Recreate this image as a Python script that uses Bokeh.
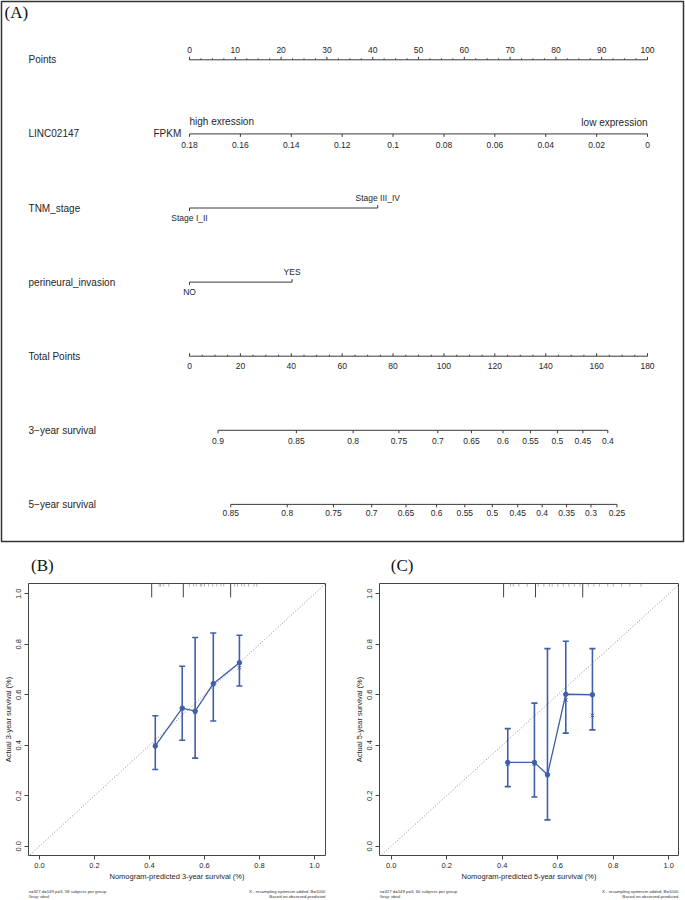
import numpy as np
from bokeh.plotting import figure
from bokeh.models import Range1d, ColumnDataSource, FixedTicker, NumeralTickFormatter
from bokeh.layouts import column, row
from bokeh.core.properties import value
from bokeh.embed import file_html
from bokeh.resources import INLINE

# ---------------- Panel A : nomogram data ----------------
row_labels = ["Points", "LINC02147", "TNM_stage", "perineural_invasion",
              "Total Points", "3\u2212year survival", "5\u2212year survival"]
points_ticks = [0, 10, 20, 30, 40, 50, 60, 70, 80, 90, 100]
linc_ticks = [0.18, 0.16, 0.14, 0.12, 0.10, 0.08, 0.06, 0.04, 0.02, 0.0]
linc_tick_labels = ["0.18", "0.16", "0.14", "0.12", "0.1", "0.08", "0.06", "0.04", "0.02", "0"]
linc_at_0_points = 0.18
linc_at_100_points = 0.0
tnm_levels = ["Stage I_II", "Stage III_IV"]
tnm_points = [0.0, 41.1]
pni_levels = ["NO", "YES"]
pni_points = [0.0, 22.4]
total_ticks = [0, 20, 40, 60, 80, 100, 120, 140, 160, 180]
total_points_max = 180
surv3_labels = ["0.9", "0.85", "0.8", "0.75", "0.7", "0.65", "0.6", "0.55", "0.5", "0.45", "0.4"]
surv3_total = [11.2, 42.0, 64.3, 82.3, 97.6, 110.8, 123.2, 134.0, 144.6, 154.6, 164.4]
surv5_labels = ["0.85", "0.8", "0.75", "0.7", "0.65", "0.6", "0.55", "0.5", "0.45", "0.4",
                "0.35", "0.3", "0.25"]
surv5_total = [16.2, 38.4, 56.6, 71.6, 85.1, 97.1, 108.2, 119.0, 129.0, 138.6, 148.2, 157.8, 168.0]

# ---------------- Panels B, C : calibration data ----------------
cal3_pred = [0.421, 0.519, 0.566, 0.632, 0.727]
cal3_obs = [0.397, 0.547, 0.535, 0.644, 0.727]
cal3_lo = [0.304, 0.420, 0.349, 0.496, 0.635]
cal3_hi = [0.517, 0.713, 0.827, 0.845, 0.836]
cal3_corrected = [0.400, 0.545, 0.530, 0.640, 0.707]
cal3_cuts = [0.408, 0.523, 0.695]
cal3_rug = [0.435, 0.44, 0.45, 0.47, 0.545, 0.56, 0.57, 0.585, 0.59, 0.60, 0.615,
            0.63, 0.645, 0.66, 0.67, 0.71, 0.72, 0.735, 0.745, 0.76, 0.78, 0.79]

cal5_pred = [0.420, 0.516, 0.563, 0.629, 0.725]
cal5_obs = [0.332, 0.332, 0.283, 0.602, 0.600]
cal5_lo = [0.236, 0.195, 0.104, 0.448, 0.461]
cal5_hi = [0.466, 0.567, 0.783, 0.812, 0.783]
cal5_corrected = [0.325, 0.325, 0.280, 0.580, 0.518]
cal5_cuts = [0.405, 0.520, 0.690]
cal5_rug = [0.43, 0.44, 0.46, 0.49, 0.53, 0.55, 0.57, 0.58, 0.60, 0.62, 0.64, 0.66,
            0.68, 0.71, 0.73, 0.75, 0.78, 0.80, 0.83, 0.86, 0.90]

SANS = value("Liberation Sans")
SERIF = value("Liberation Serif")
TXT = "#262626"
AXC = "#3a3a3a"
BLUE = "#3f5fa8"

# ================= Panel A =================
pa = figure(width=685, height=543, x_range=Range1d(-41.05, 107.86), y_range=Range1d(6.501, -0.787),
            output_backend="svg", toolbar_location=None, x_axis_location=None, y_axis_location=None,
            min_border_left=1, min_border_right=2, min_border_top=1, min_border_bottom=2)
pa.xgrid.visible = False
pa.ygrid.visible = False
pa.outline_line_color = "#333333"
pa.outline_line_width = 1.5
pa.background_fill_color = "white"

MAJ = 0.04
MIN = 0.02


def pts_from_total(t):
    return np.asarray(t, dtype=float) * 100.0 / total_points_max


def pts_from_linc(v):
    return (linc_at_0_points - np.asarray(v, dtype=float)) / (linc_at_0_points - linc_at_100_points) * 100.0


seg_x0, seg_x1, seg_y0, seg_y1 = [], [], [], []


def add_seg(x0, y0, x1, y1):
    seg_x0.append(float(x0)); seg_y0.append(float(y0))
    seg_x1.append(float(x1)); seg_y1.append(float(y1))


def add_axis(r, xs, direction, length):
    xs = list(xs)
    add_seg(min(xs), r, max(xs), r)
    for x in xs:
        add_seg(x, r, x, r + direction * length)


# Points (ticks up)
add_axis(0, points_ticks, -1, MAJ)
for m in np.arange(0, 100.01, 2.5):
    if m % 10 != 0:
        add_seg(m, 0, m, -MIN)
# LINC02147 (ticks down)
add_axis(1, pts_from_linc(linc_ticks), 1, MAJ)
# TNM stage
tx = list(tnm_points)
add_seg(min(tx), 2, max(tx), 2)
add_seg(tx[0], 2, tx[0], 2 + MAJ)
add_seg(tx[1], 2, tx[1], 2 - MAJ)
# perineural invasion
px = list(pni_points)
add_seg(min(px), 3, max(px), 3)
add_seg(px[0], 3, px[0], 3 + MAJ)
add_seg(px[1], 3, px[1], 3 - MAJ)
# Total points (ticks up)
add_axis(4, pts_from_total(total_ticks), -1, MAJ)
for m in np.arange(0, total_points_max + 0.01, 5):
    if m % 20 != 0:
        mm = float(pts_from_total(m))
        add_seg(mm, 4, mm, 4 - MIN)
# survival axes (ticks down)
add_axis(5, pts_from_total(surv3_total), 1, MAJ)
add_axis(6, pts_from_total(surv5_total), 1, MAJ)

pa.segment(x0=seg_x0, y0=seg_y0, x1=seg_x1, y1=seg_y1, line_color=AXC, line_width=1)

pa.text(x=[-35.15] * len(row_labels), y=list(range(len(row_labels))), text=row_labels,
        text_font=SANS, text_font_size="10px", text_color=TXT,
        text_align="left", text_baseline="middle")
pa.text(x=[-1.8], y=[1], text=["FPKM"], text_font=SANS, text_font_size="10px",
        text_color=TXT, text_align="right", text_baseline="middle")
pa.text(x=[0.0], y=[1], text=["high exression"], text_font=SANS, text_font_size="10px",
        text_color=TXT, text_align="left", text_baseline="middle", y_offset=-12)
pa.text(x=[100.0], y=[1], text=["low expression"], text_font=SANS, text_font_size="10px",
        text_color=TXT, text_align="right", text_baseline="middle", y_offset=-11)


def tick_text(xs, r, labels, yoff):
    pa.text(x=list(map(float, xs)), y=[r] * len(labels), text=labels, text_font=SANS,
            text_font_size="8.5px", text_color=TXT, text_align="center",
            text_baseline="middle", y_offset=yoff)


tick_text(points_ticks, 0, [str(t) for t in points_ticks], -10)
tick_text(pts_from_linc(linc_ticks), 1, linc_tick_labels, 11)
tick_text([tnm_points[0]], 2, [tnm_levels[0]], 10)
tick_text([tnm_points[1]], 2, [tnm_levels[1]], -10)
tick_text([pni_points[0]], 3, [pni_levels[0]], 10)
tick_text([pni_points[1]], 3, [pni_levels[1]], -10)
tick_text(pts_from_total(total_ticks), 4, [str(t) for t in total_ticks], 10)
tick_text(pts_from_total(surv3_total), 5, surv3_labels, 11)
tick_text(pts_from_total(surv5_total), 6, surv5_labels, 9)

pa.text(x=[-40.4], y=[-0.645], text=["(A)"], text_font=SERIF, text_font_size="17px",
        text_color="#111111", text_align="left", text_baseline="middle")


# ================= Panels B, C =================
def blank_fig(width, height, xr, yr, **kw):
    f = figure(width=width, height=height, x_range=xr, y_range=yr, output_backend="svg",
               toolbar_location=None, x_axis_location=None, y_axis_location=None, **kw)
    f.xgrid.visible = False
    f.ygrid.visible = False
    f.outline_line_color = None
    return f


def cal_panel(tag, tag_x, years, pred, obs, lo, hi, corr, cuts, rug, n_text,
              width, mbl, mbr, xlo, xhi):
    ylo, yhi = -0.037, 1.041
    # header with panel tag
    h = blank_fig(width, 32, Range1d(0, width), Range1d(32, 0),
                  min_border_left=0, min_border_right=0, min_border_top=0, min_border_bottom=0)
    h.text(x=[tag_x], y=[22], text=[tag], text_font=SERIF, text_font_size="17px",
           text_color="#111111", text_align="left", text_baseline="middle")

    p = figure(width=width, height=311, x_range=Range1d(xlo, xhi), y_range=Range1d(ylo, yhi),
               output_backend="svg", toolbar_location=None,
               min_border_left=mbl, min_border_right=mbr, min_border_top=8, min_border_bottom=31)
    p.xgrid.visible = False
    p.ygrid.visible = False
    p.outline_line_color = "#444444"
    p.outline_line_width = 1
    ticks = [0.0, 0.2, 0.4, 0.6, 0.8, 1.0]
    for ax in (p.xaxis[0], p.yaxis[0]):
        ax.ticker = FixedTicker(ticks=ticks)
        ax.formatter = NumeralTickFormatter(format="0.0")
        ax.minor_tick_line_color = None
        ax.major_tick_in = 0
        ax.major_tick_out = 4
        ax.major_tick_line_color = "#444444"
        ax.axis_line_color = None
        ax.major_label_text_font = "Liberation Sans"
        ax.major_label_text_font_size = "7.5px"
        ax.major_label_text_color = TXT
        ax.axis_label_text_font = "Liberation Sans"
        ax.axis_label_text_font_size = "7.5px"
        ax.axis_label_text_font_style = "normal"
        ax.axis_label_text_color = TXT
        ax.major_label_standoff = 3
        ax.axis_label_standoff = 1
    p.yaxis[0].major_label_orientation = "vertical"
    p.xaxis[0].axis_label = "Nomogram-predicted %d-year survival (%%)" % years
    p.yaxis[0].axis_label = "Actual %d-year survival (%%)" % years

    # ideal line
    p.line([-0.05, 1.05], [-0.05, 1.05], line_color="#8a8a8a", line_width=1, line_dash="1 2")
    # group cut marks and rug at the top
    p.segment(x0=cuts, y0=[yhi] * len(cuts), x1=cuts, y1=[yhi - 0.055] * len(cuts),
              line_color="#444444", line_width=1)
    p.segment(x0=rug, y0=[yhi] * len(rug), x1=rug, y1=[yhi - 0.012] * len(rug),
              line_color="#9a9a9a", line_width=0.8)
    # error bars, observed line and points, corrected points
    cap = 0.011
    src = ColumnDataSource(dict(x=pred, obs=obs, lo=lo, hi=hi, corr=corr,
                                xl=[v - cap for v in pred], xr=[v + cap for v in pred]))
    p.segment(x0="x", y0="lo", x1="x", y1="hi", source=src, line_color=BLUE, line_width=1.6)
    p.segment(x0="xl", y0="hi", x1="xr", y1="hi", source=src, line_color=BLUE, line_width=1.6)
    p.segment(x0="xl", y0="lo", x1="xr", y1="lo", source=src, line_color=BLUE, line_width=1.6)
    p.line(x="x", y="obs", source=src, line_color=BLUE, line_width=1.3)
    p.scatter(x="x", y="obs", source=src, marker="circle", size=4.5, fill_color=BLUE,
              line_color=BLUE)
    p.scatter(x="x", y="corr", source=src, marker="x", size=5, line_color=BLUE, line_width=1)

    # footnotes
    f = blank_fig(width, 13, p.x_range, Range1d(13, 0),
                  min_border_left=mbl, min_border_right=mbr, min_border_top=0, min_border_bottom=0)
    foot = dict(text_font=SANS, text_font_size="4.3px", text_color="#333333",
                text_baseline="middle")
    f.text(x=[xlo, xlo], y=[5, 10], text=[n_text, "Gray: ideal"], text_align="left", **foot)
    f.text(x=[xhi, xhi], y=[5, 10],
           text=["X - resampling optimism added, B=1000", "Based on observed-predicted"],
           text_align="right", **foot)
    return column(h, p, f)


pb = cal_panel("(B)", 3, 3, cal3_pred, cal3_obs, cal3_lo, cal3_hi, cal3_corrected, cal3_cuts,
               cal3_rug, "n=327 d=149 p=3, 58 subjects per group", 340, 27, 15, -0.04, 1.04)
pc = cal_panel("(C)", 13, 5, cal5_pred, cal5_obs, cal5_lo, cal5_hi, cal5_corrected, cal5_cuts,
               cal5_rug, "n=327 d=149 p=3, 60 subjects per group", 345, 39, 7, -0.042, 1.035)

layout = column(pa, row(pb, pc))
open("out.html", "w").write(file_html(layout, INLINE))
